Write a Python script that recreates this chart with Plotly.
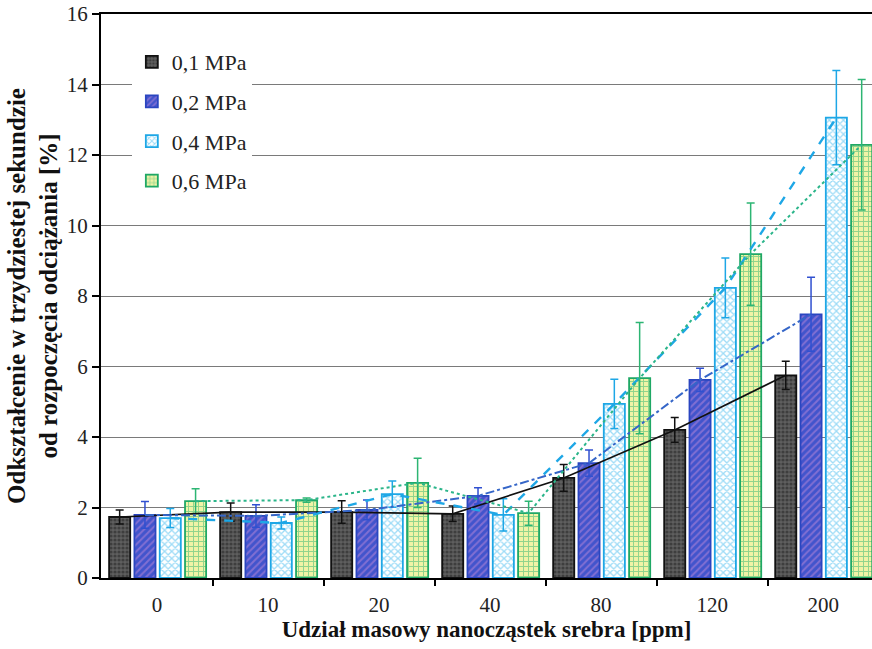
import plotly.graph_objects as go

categories = ["0", "10", "20", "40", "80", "120", "200"]
series_names = ["0,1 MPa", "0,2 MPa", "0,4 MPa", "0,6 MPa"]

v01 = [1.73, 1.87, 1.87, 1.82, 2.84, 4.20, 5.75]
e01 = [0.20, 0.26, 0.32, 0.22, 0.38, 0.35, 0.40]
v02 = [1.79, 1.76, 1.93, 2.33, 3.26, 5.62, 7.48]
e02 = [0.38, 0.32, 0.28, 0.23, 0.37, 0.33, 1.05]
v04 = [1.70, 1.56, 2.38, 1.79, 4.94, 8.23, 13.06]
e04 = [0.27, 0.17, 0.37, 0.46, 0.70, 0.85, 1.34]
v06 = [2.18, 2.21, 2.70, 1.84, 5.67, 9.19, 12.29]
e06 = [0.35, 0.06, 0.70, 0.34, 1.58, 1.45, 1.85]

values = [v01, v02, v04, v06]
errors = [e01, e02, e04, e06]

FONT = "Liberation Serif"
W = 0.19
PITCH = 0.228
START = -0.432

styles = [
    dict(bg="#5e5e5e", fg="#1e1e1e", shape=".", size=4, sol=0.5, edge="#111111",
         err="#111111", line="#111111", dash="solid", lw=1.6),
    dict(bg="#4254cc", fg="#c08ad8", shape="/", size=5, sol=0.4, edge="#2a45c0",
         err="#3050d0", line="#3566c8", dash="dashdot", lw=2),
    dict(bg="#ffffff", fg="#3cb8ee", shape="x", size=5, sol=0.45, edge="#1ea7e6",
         err="#1ea7e6", line="#1ea7e6", dash="dash", lw=2.4),
    dict(bg="#f0f3a6", fg="#2db573", shape="+", size=5, sol=0.35, edge="#1fa865",
         err="#2db573", line="#2bb58a", dash="dot", lw=2),
]

xs = list(range(len(categories)))
fig = go.Figure()

for k, (name, vals, errs, st) in enumerate(zip(series_names, values, errors, styles)):
    off = START + k * PITCH
    fig.add_trace(go.Bar(
        x=xs, y=vals, width=W, offset=off, name=name,
        legendgroup=name,
        marker=dict(color=st["bg"], line=dict(color=st["edge"], width=1.8),
                    pattern=dict(shape=st["shape"], fgcolor=st["fg"], bgcolor=st["bg"],
                                 size=st["size"], solidity=st["sol"])),
        error_y=dict(type="data", array=errs, visible=True, color=st["err"],
                     thickness=1.5, width=4),
    ))

for k, (name, vals, st) in enumerate(zip(series_names, values, styles)):
    off = START + k * PITCH
    fig.add_trace(go.Scatter(
        x=[i + off + W / 2 for i in xs], y=vals, mode="lines", showlegend=False,
        line=dict(color=st["line"], dash=st["dash"], width=st["lw"]),
        hoverinfo="skip",
    ))

fig.update_layout(
    width=872, height=649,
    margin=dict(l=101, r=0, t=14, b=71),
    paper_bgcolor="white", plot_bgcolor="white",
    barmode="overlay",
    font=dict(family=FONT, size=20, color="#222222"),
    showlegend=True,
    legend=dict(x=0.04, y=0.952, xanchor="left", yanchor="top",
                bgcolor="white", borderwidth=0,
                font=dict(family=FONT, size=22, color="#222222"),
                tracegroupgap=8, itemwidth=30),
)

fig.update_xaxes(
    range=[-0.505, 6.44],
    tickmode="array", tickvals=xs, ticktext=categories,
    ticks="outside", ticklen=7, tickcolor="rgba(0,0,0,0)",
    showgrid=False, zeroline=False,
    showline=True, linecolor="black", linewidth=2, mirror=True,
    minor=dict(tickmode="array", tickvals=[i + 0.5 for i in xs[:-1]],
               ticks="outside", ticklen=6, tickcolor="black", tickwidth=1.5,
               showgrid=False),
    tickfont=dict(family=FONT, size=21, color="#222222"),
    title=dict(text="<b>Udział masowy nanocząstek srebra [ppm]</b>",
               font=dict(family=FONT, size=23, color="#111111"), standoff=4),
)

fig.update_yaxes(
    range=[0, 16], dtick=2, tick0=0,
    ticks="outside", ticklen=7, tickcolor="black", tickwidth=1.5,
    showgrid=True, gridcolor="#7a7a7a", gridwidth=1.2,
    zeroline=False,
    showline=True, linecolor="black", linewidth=2, mirror=False,
    tickfont=dict(family=FONT, size=21, color="#222222"),
    title=dict(text="<b>Odkształcenie w trzydziestej sekundzie<br>od rozpoczęcia odciążania [%]</b>",
               font=dict(family=FONT, size=25, color="#111111"), standoff=2),
)

fig.write_html("out.html", config={"displayModeBar": False},
               post_script="document.body.style.margin='0';document.body.style.overflow='hidden';")
